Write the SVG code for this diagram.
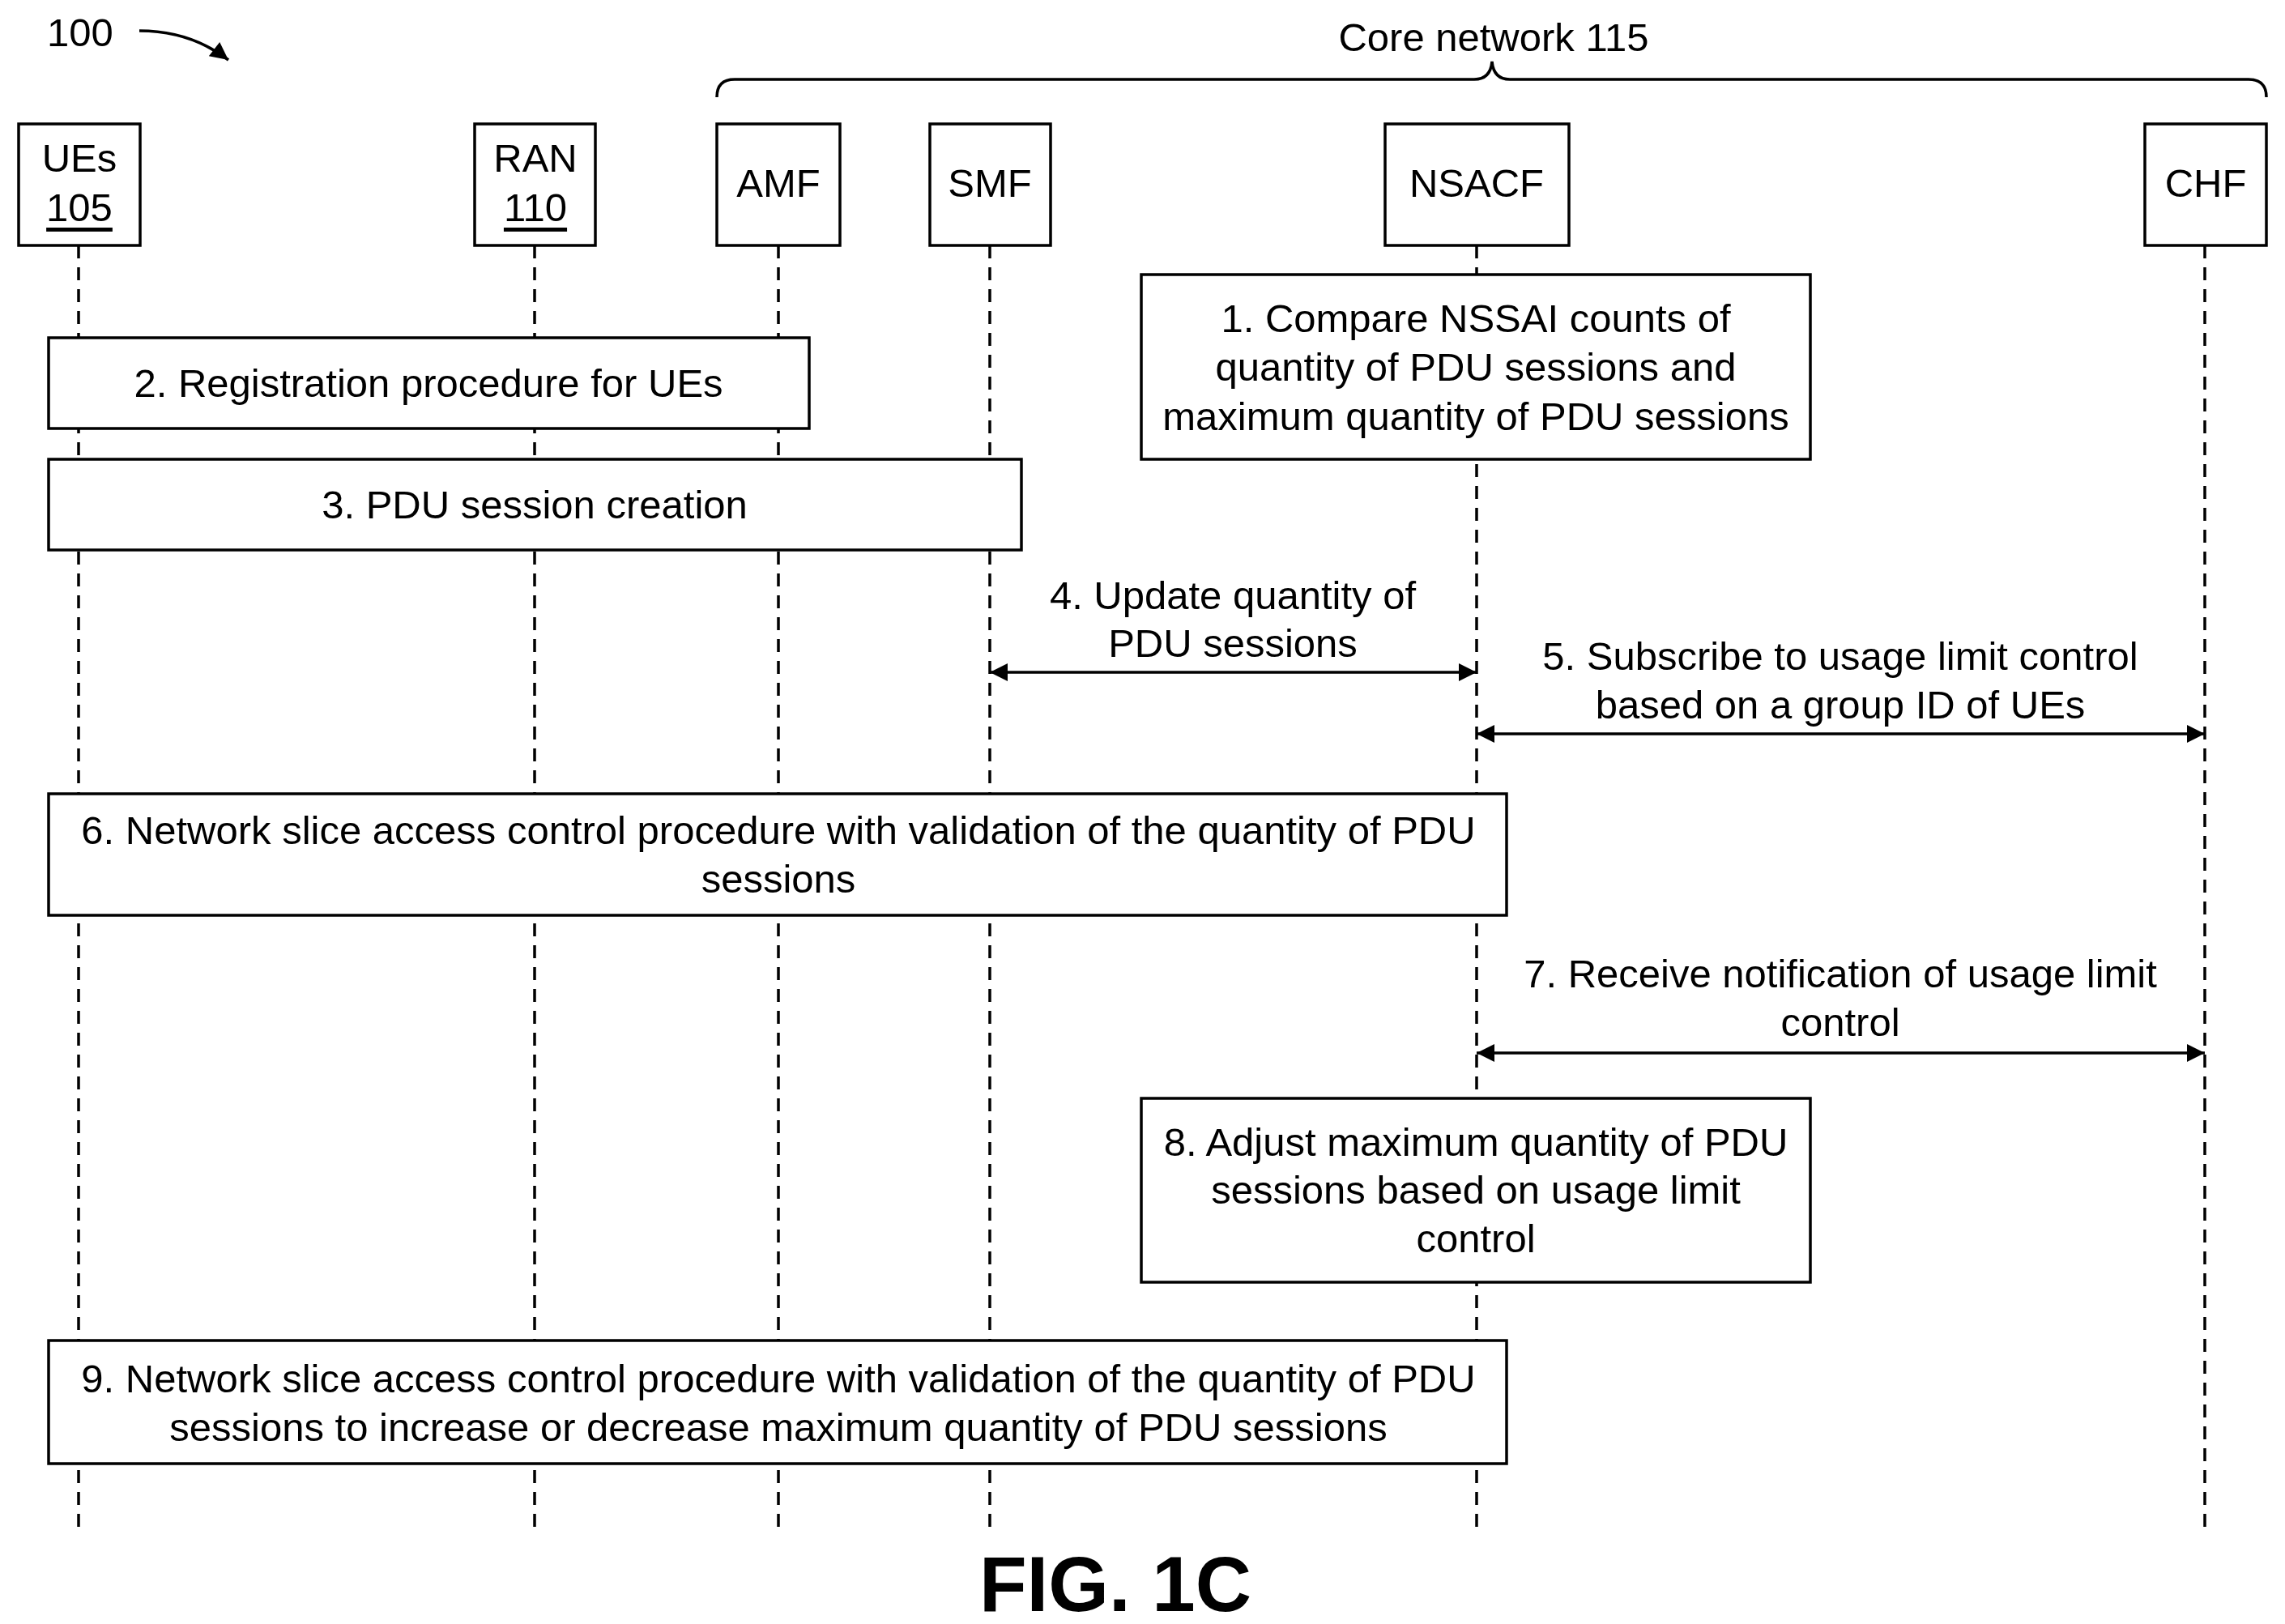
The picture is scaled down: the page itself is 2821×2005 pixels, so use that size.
<svg xmlns="http://www.w3.org/2000/svg" width="2821" height="2005" viewBox="0 0 2821 2005">
<style>
text{font-family:"Liberation Sans",Arial,sans-serif;font-size:49px;fill:#000;text-anchor:middle;dominant-baseline:central}
.b{fill:#fff;stroke:#000;stroke-width:3.5}
.l{stroke:#000;stroke-width:3.5;stroke-dasharray:16 11;fill:none}
.a{stroke:#000;stroke-width:3.5;fill:none}
</style>
<defs>
<marker id="ah2" viewBox="0 0 10 10" refX="10" refY="5" markerWidth="30" markerHeight="22" markerUnits="userSpaceOnUse" orient="auto-start-reverse"><path d="M0,0 L10,5 L0,10 z" fill="#000"/></marker></defs>
<rect width="2821" height="2005" fill="#fff"/>
<g id="lifelines">
<line class="l" x1="97" y1="303" x2="97" y2="1886"/>
<line class="l" x1="660" y1="303" x2="660" y2="1886"/>
<line class="l" x1="961" y1="303" x2="961" y2="1886"/>
<line class="l" x1="1222" y1="303" x2="1222" y2="1886"/>
<line class="l" x1="1823" y1="303" x2="1823" y2="1886"/>
<line class="l" x1="2722" y1="303" x2="2722" y2="1886"/>
</g>
<g id="label100"><text x="99" y="40">100</text>
<path d="M172,38 Q235,38 282,74" fill="none" stroke="#000" stroke-width="3.5" marker-end="url(#ah2)"/></g>
<g id="core"><path d="M885,120 Q885,98 907,98 L1820,98 Q1840,98 1842,76 Q1844,98 1864,98 L2776,98 Q2798,98 2798,120" fill="none" stroke="#000" stroke-width="3.5"/>
<text x="1844" y="46">Core network 115</text></g>
<g id="ues"><rect class="b" x="23" y="153" width="150" height="150"/><text x="98" y="195">UEs</text><text x="98" y="256" text-decoration="underline">105</text></g>
<g id="ran"><rect class="b" x="586" y="153" width="149" height="150"/><text x="661" y="195">RAN</text><text x="661" y="256" text-decoration="underline">110</text></g>
<g id="amf"><rect class="b" x="885" y="153" width="152" height="150"/><text x="961" y="226">AMF</text></g>
<g id="smf"><rect class="b" x="1148" y="153" width="149" height="150"/><text x="1222" y="226">SMF</text></g>
<g id="nsacf"><rect class="b" x="1710" y="153" width="227" height="150"/><text x="1823" y="226">NSACF</text></g>
<g id="chf"><rect class="b" x="2648" y="153" width="150" height="150"/><text x="2723" y="226">CHF</text></g>
<g id="step1"><rect class="b" x="1409" y="339" width="826" height="228"/><text x="1822" y="393">1. Compare NSSAI counts of</text><text x="1822" y="453">quantity of PDU sessions and</text><text x="1822" y="514">maximum quantity of PDU sessions</text></g>
<g id="step2"><rect class="b" x="60" y="417" width="939" height="112"/><text x="529" y="473">2. Registration procedure for UEs</text></g>
<g id="step3"><rect class="b" x="60" y="567" width="1201" height="112"/><text x="660" y="623">3. PDU session creation</text></g>
<g id="step6"><rect class="b" x="60" y="980" width="1800" height="150"/><text x="961" y="1025">6. Network slice access control procedure with validation of the quantity of PDU</text><text x="961" y="1085">sessions</text></g>
<g id="step8"><rect class="b" x="1409" y="1356" width="826" height="227"/><text x="1822" y="1410">8. Adjust maximum quantity of PDU</text><text x="1822" y="1469">sessions based on usage limit</text><text x="1822" y="1529">control</text></g>
<g id="step9"><rect class="b" x="60" y="1655" width="1800" height="152"/><text x="961" y="1702">9. Network slice access control procedure with validation of the quantity of PDU</text><text x="961" y="1762">sessions to increase or decrease maximum quantity of PDU sessions</text></g>
<g id="connectors">
<line class="a" x1="1222" y1="830" x2="1823" y2="830" marker-start="url(#ah2)" marker-end="url(#ah2)"/>
<line class="a" x1="1823" y1="906" x2="2722" y2="906" marker-start="url(#ah2)" marker-end="url(#ah2)"/>
<line class="a" x1="1823" y1="1300" x2="2722" y2="1300" marker-start="url(#ah2)" marker-end="url(#ah2)"/>
<text x="1522" y="735">4. Update quantity of</text><text x="1522" y="794">PDU sessions</text>
<text x="2272" y="810">5. Subscribe to usage limit control</text><text x="2272" y="870">based on a group ID of UEs</text>
<text x="2272" y="1202">7. Receive notification of usage limit</text><text x="2272" y="1262">control</text>
</g>
<text x="1377" y="1955" style="font-size:96px;font-weight:bold">FIG. 1C</text>
</svg>
